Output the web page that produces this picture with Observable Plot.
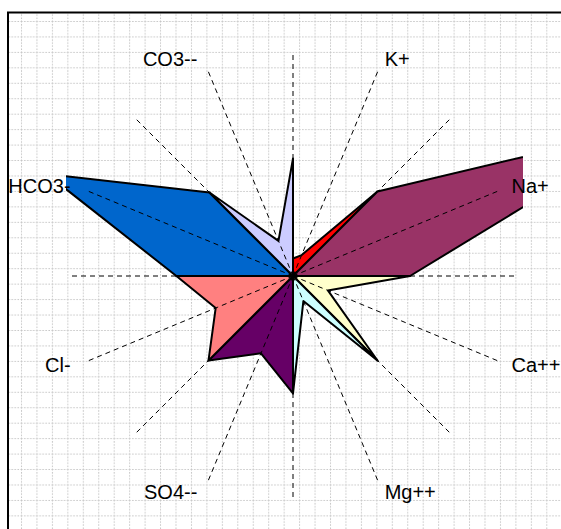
<!DOCTYPE html>
<html>
<head>
<meta charset="utf-8">
<script src="https://cdn.jsdelivr.net/npm/d3@7"></script>
<script src="https://cdn.jsdelivr.net/npm/@observablehq/plot@0.6"></script>
<style>
  html, body { margin: 0; padding: 0; background: white; }
  #chart { width: 561px; height: 529px; overflow: hidden; }
</style>
</head>
<body>
<div id="chart"></div>
<script>
// Ions, in clockwise order starting just right of the top spoke
const ions = ["K+", "Na+", "Ca++", "Mg++", "SO4--", "Cl-", "HCO3-", "CO3--"];
// value on each ion's own spoke
const ionValues = [10.2, 178, 17, 12.2, 37.7, 37.7, 120, 17.1];
// value on the separator spoke before (counter-clockwise side) each ion
const startSpokeValues = [7.9, 53.8, 52.7, 53.8, 52.9, 53.8, 52.5, 53.2];
// value on the separator spoke after (clockwise side) each ion
const endSpokeValues = [53.8, 52.7, 53.8, 52.9, 53.8, 52.5, 53.2, 52.9];
const axisMax = 100;
const spokeCount = 16;

const colors = ["#FF0000", "#993366", "#FFFFCC", "#CCFFFF", "#660066", "#FF8080", "#0066CC", "#CCCCFF"];

const ang = k => (90 - k * 360 / spokeCount) * Math.PI / 180;

const pts = [];
ions.forEach((ion, i) => {
  const ks = [2 * i, 2 * i + 1, 2 * i + 2];
  const vals = [startSpokeValues[i], ionValues[i], endSpokeValues[i]];
  pts.push({ion, x: 0, y: 0});
  ks.forEach((k, j) => pts.push({ion, x: vals[j] * Math.cos(ang(k)), y: vals[j] * Math.sin(ang(k))}));
  pts.push({ion, x: 0, y: 0});
});

const spokes = d3.range(spokeCount).map(k => ({k}));
const labels = ions.map((ion, i) => ({ion, k: 2 * i + 1}));
const labelR = axisMax + 5.5;
const lx = d => labelR * Math.cos(ang(d.k));
const ly = d => labelR * Math.sin(ang(d.k));

const chart = Plot.plot({
  width: 561,
  height: 529,
  marginLeft: 66,
  marginRight: 38,
  marginTop: 46.8,
  marginBottom: 24.8,
  x: {domain: [-102, 103.8], axis: null},
  y: {domain: [-103, 103], axis: null},
  color: {domain: ions, range: colors},
  style: {fontFamily: "'Liberation Sans', Arial, sans-serif", background: "transparent"},
  marks: [
    Plot.line(pts, {x: "x", y: "y", z: "ion", fill: "ion", stroke: "black", strokeWidth: 2, strokeLinejoin: "round", clip: true}),
    Plot.link(spokes, {
      x1: () => 0, y1: () => 0,
      x2: d => axisMax * Math.cos(ang(d.k)), y2: d => axisMax * Math.sin(ang(d.k)),
      stroke: "black", strokeWidth: 1, strokeDasharray: "5,4"
    }),
    Plot.text(labels.filter(d => Math.cos(ang(d.k)) > 0), {x: lx, y: ly, text: "ion", textAnchor: "start", dx: 2, fontSize: 20, fill: "black"}),
    Plot.text(labels.filter(d => Math.cos(ang(d.k)) < 0), {x: lx, y: ly, text: "ion", textAnchor: "end", dx: -6, fontSize: 20, fill: "black"})
  ]
});

// chart-area background: dotted grid pattern, with top and left border
const svg = d3.select(chart);
const defs = svg.insert("defs", ":first-child");
const pat = defs.append("pattern").attr("id", "dotgrid").attr("patternUnits", "userSpaceOnUse")
  .attr("x", 21).attr("y", 21).attr("width", 15.45).attr("height", 15.45);
pat.append("line").attr("x1", 0.5).attr("y1", 0).attr("x2", 0.5).attr("y2", 15.45)
  .attr("stroke", "#c4c4c4").attr("stroke-width", 1).attr("stroke-dasharray", "1.5,1.5");
pat.append("line").attr("x1", 0).attr("y1", 0.5).attr("x2", 15.45).attr("y2", 0.5)
  .attr("stroke", "#c4c4c4").attr("stroke-width", 1).attr("stroke-dasharray", "1.5,1.5");
const bg = svg.insert("g", "defs + *");
bg.append("rect").attr("x", 0).attr("y", 0).attr("width", 561).attr("height", 529).attr("fill", "white");
bg.append("rect").attr("x", 8).attr("y", 12).attr("width", 553).attr("height", 517).attr("fill", "url(#dotgrid)");
bg.append("path").attr("d", "M8,529V12.5H561").attr("fill", "none").attr("stroke", "black").attr("stroke-width", 2);

document.getElementById("chart").appendChild(chart);
</script>
</body>
</html>
